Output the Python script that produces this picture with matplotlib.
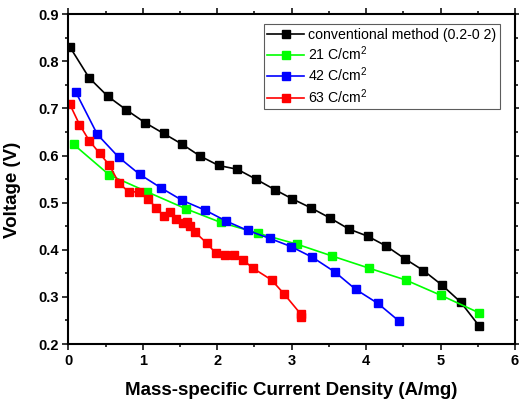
import matplotlib
matplotlib.use("Agg")
import matplotlib.pyplot as plt
from matplotlib.ticker import MultipleLocator

plt.rcParams['font.family'] = ['Liberation Sans', 'DejaVu Sans']
plt.rcParams['mathtext.fontset'] = 'custom'
plt.rcParams['mathtext.rm'] = 'Liberation Sans'

# conventional method
conv_x = [0.02, 0.28, 0.53, 0.78, 1.03, 1.28, 1.53, 1.77, 2.02, 2.27, 2.52, 2.77,
          3.01, 3.26, 3.51, 3.77, 4.02, 4.27, 4.52, 4.77, 5.02, 5.27, 5.52]
conv_y = [0.831, 0.765, 0.726, 0.697, 0.670, 0.647, 0.624, 0.599, 0.579, 0.571, 0.550, 0.528,
          0.508, 0.489, 0.468, 0.444, 0.429, 0.408, 0.381, 0.356, 0.325, 0.289, 0.238]

# 21 C/cm2
c21_x = [0.07, 0.55, 1.06, 1.58, 2.05, 2.55, 3.07, 3.54, 4.04, 4.53, 5.01, 5.52]
c21_y = [0.624, 0.559, 0.523, 0.487, 0.458, 0.435, 0.412, 0.387, 0.361, 0.336, 0.303, 0.266]

# 42 C/cm2
c42_x = [0.10, 0.39, 0.68, 0.96, 1.25, 1.53, 1.84, 2.12, 2.41, 2.71, 2.99, 3.28, 3.58, 3.86, 4.16, 4.44]
c42_y = [0.735, 0.645, 0.596, 0.560, 0.531, 0.505, 0.484, 0.461, 0.441, 0.424, 0.407, 0.384,
         0.353, 0.316, 0.286, 0.249]

# 63 C/cm2
c63_x = [0.02, 0.15, 0.28, 0.42, 0.55, 0.68, 0.81, 0.95, 1.07, 1.18, 1.28, 1.37, 1.45, 1.54,
         1.59, 1.64, 1.70, 1.86, 1.98, 2.10, 2.22, 2.35, 2.48, 2.73, 2.90, 3.12, 3.13]
c63_y = [0.709, 0.666, 0.632, 0.605, 0.580, 0.542, 0.523, 0.523, 0.508, 0.489, 0.472, 0.480,
         0.466, 0.456, 0.458, 0.450, 0.438, 0.414, 0.393, 0.388, 0.390, 0.378, 0.361, 0.336,
         0.306, 0.264, 0.257]

series = [
    (conv_x, conv_y, '#000000', 'conventional method (0.2-0 2)'),
    (c21_x, c21_y, '#00ff00', '21 C/cm$^2$'),
    (c42_x, c42_y, '#0000ff', '42 C/cm$^2$'),
    (c63_x, c63_y, '#ff0000', '63 C/cm$^2$'),
]

fig = plt.figure(figsize=(5.19, 4.05), dpi=100)
ax = fig.add_axes([0.1316, 0.1506, 0.8607, 0.8141])

for x, y, c, lab in series:
    ax.plot(x, y, color=c, lw=1.2, marker='s', ms=5.5, mfc=c, mec=c, label=lab)

ax.set_xlim(0, 6)
ax.set_ylim(0.2, 0.9)
ax.xaxis.set_major_locator(MultipleLocator(1))
ax.xaxis.set_minor_locator(MultipleLocator(0.5))
ax.yaxis.set_major_locator(MultipleLocator(0.1))
ax.yaxis.set_minor_locator(MultipleLocator(0.05))
ax.tick_params(which='both', direction='out', top=True, right=True, width=1.1)
ax.tick_params(which='major', length=4, labelsize=10.5, pad=3)
ax.tick_params(which='minor', length=2.5)
for lbl in ax.get_xticklabels() + ax.get_yticklabels():
    lbl.set_fontweight('bold')
for s in ax.spines.values():
    s.set_linewidth(1.5)

ax.set_xlabel('Mass-specific Current Density (A/mg)', fontsize=13.5, fontweight='bold', labelpad=10)
ax.set_ylabel('Voltage (V)', fontsize=13.5, fontweight='bold')
ax.yaxis.set_label_coords(-0.105, 0.467)

leg = ax.legend(loc='upper right', bbox_to_anchor=(0.9664, 0.9706), fontsize=10.2,
                frameon=True, fancybox=False, borderpad=0.25, labelspacing=0.2,
                handlelength=2.6, handletextpad=0.3, borderaxespad=0)
leg.get_frame().set_edgecolor('#333333')
leg.get_frame().set_linewidth(0.8)

fig.savefig('out.png', dpi=100)
